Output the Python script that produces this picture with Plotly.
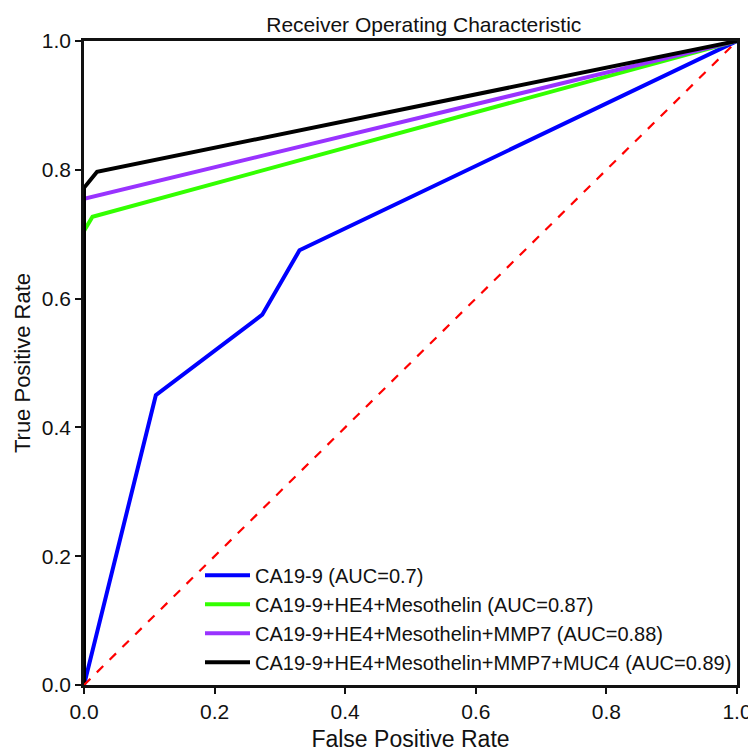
import plotly.graph_objects as go

# ROC curves (FPR, TPR)
names = [
    "CA19-9 (AUC=0.7)",
    "CA19-9+HE4+Mesothelin (AUC=0.87)",
    "CA19-9+HE4+Mesothelin+MMP7 (AUC=0.88)",
    "CA19-9+HE4+Mesothelin+MMP7+MUC4 (AUC=0.89)",
]
colors = ["#0000ff", "#33ff00", "#9933ff", "#000000"]

fpr_ca199 = [0.0, 0.11, 0.273, 0.33, 1.0]
tpr_ca199 = [0.0, 0.45, 0.575, 0.675, 1.0]

fpr_he4 = [0.0, 0.0, 0.013, 1.0]
tpr_he4 = [0.0, 0.705, 0.727, 1.0]

fpr_mmp7 = [0.0, 0.0, 1.0]
tpr_mmp7 = [0.0, 0.755, 1.0]

fpr_muc4 = [0.0, 0.0, 0.02, 1.0]
tpr_muc4 = [0.0, 0.772, 0.797, 1.0]

diag_x = [0.0, 1.0]
diag_y = [0.0, 1.0]

tick_vals = [0.0, 0.2, 0.4, 0.6, 0.8, 1.0]
tick_text = ["0.0", "0.2", "0.4", "0.6", "0.8", "1.0"]

fig = go.Figure()
series = [(fpr_ca199, tpr_ca199), (fpr_he4, tpr_he4), (fpr_mmp7, tpr_mmp7), (fpr_muc4, tpr_muc4)]
for (x, y), n, c in zip(series, names, colors):
    fig.add_trace(go.Scatter(x=x, y=y, mode="lines", name=n,
                             line=dict(color=c, width=4)))

fig.add_trace(go.Scatter(x=diag_x, y=diag_y, mode="lines", showlegend=False,
                         line=dict(color="#ff0000", width=2.2, dash="dash")))

font_family = "Liberation Sans, Arial, sans-serif"
fig.update_layout(
    width=756, height=752,
    margin=dict(l=76, r=18, t=33, b=63),
    paper_bgcolor="white", plot_bgcolor="white",
    font=dict(family=font_family, color="#111111"),
    title=dict(text="Receiver Operating Characteristic", x=0.55, xanchor="center",
               y=0.988, yanchor="top", font=dict(size=21, family=font_family, color="#111111")),
    legend=dict(x=1.0, xanchor="right", y=0.005, yanchor="bottom",
                bgcolor="rgba(255,255,255,0)", font=dict(size=20, family=font_family, color="#111111"),
                tracegroupgap=0, itemwidth=45),
)
fig.update_xaxes(range=[0, 1], tickvals=tick_vals, ticktext=tick_text,
                 showgrid=False, zeroline=False, showline=True, linecolor="#111111",
                 linewidth=2.5, mirror=True, ticks="outside", ticklen=6, tickwidth=2,
                 tickcolor="#111111", tickfont=dict(size=21),
                 title=dict(text="False Positive Rate", font=dict(size=23), standoff=9))
fig.update_yaxes(range=[0, 1], tickvals=tick_vals, ticktext=tick_text,
                 showgrid=False, zeroline=False, showline=True, linecolor="#111111",
                 linewidth=2.5, mirror=True, ticks="outside", ticklen=6, tickwidth=2,
                 tickcolor="#111111", tickfont=dict(size=21),
                 title=dict(text="True Positive Rate", font=dict(size=22), standoff=6))

fig.write_html("out.html")
